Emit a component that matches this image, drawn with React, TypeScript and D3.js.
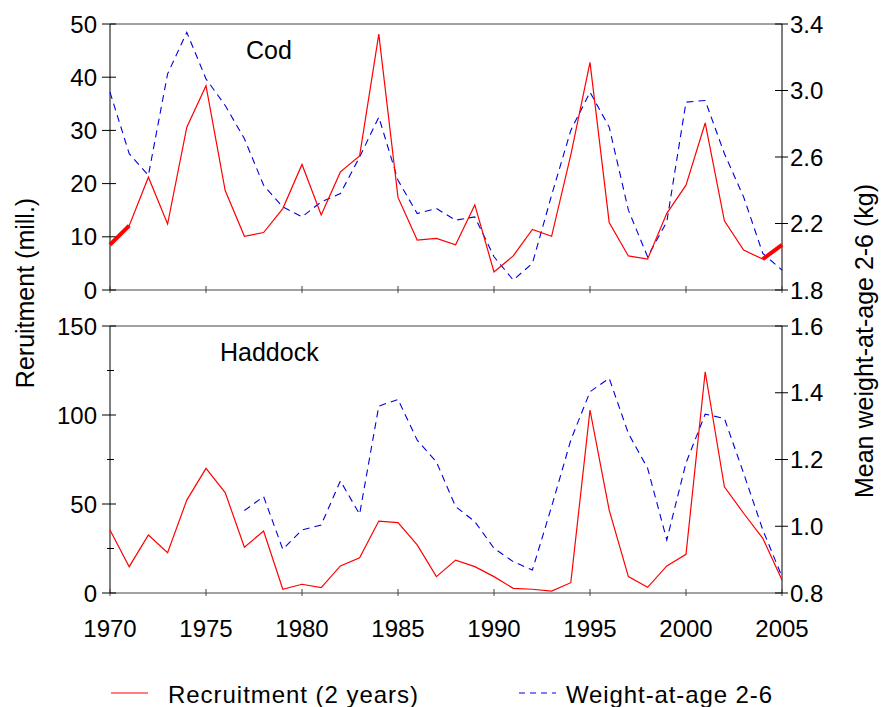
import React from 'react';
import * as d3 from 'd3';

// years 1970..2005
const years = d3.range(1970, 2006);

// cod
const codRecruit = [8.5, 12.1, 21.2, 12.4, 30.6, 38.4, 18.7, 10.1, 10.8, 15.3, 23.6, 14.1, 22.2, 25.2, 48.1,
  17.4, 9.4, 9.7, 8.5, 16.0, 3.4, 6.4, 11.4, 10.1, 25.4, 42.8, 12.7, 6.4, 5.8, 14.4,
  19.7, 31.4, 13.0, 7.5, 5.8, 8.5];
const codWeight = [2.99, 2.62, 2.49, 3.10, 3.35, 3.07, 2.91, 2.71, 2.43, 2.30, 2.24, 2.33, 2.38, 2.60, 2.84,
  2.46, 2.26, 2.29, 2.22, 2.24, 2.00, 1.86, 1.96, 2.37, 2.76, 2.99, 2.78, 2.28, 2.00, 2.21,
  2.93, 2.94, 2.62, 2.36, 2.02, 1.92];

// haddock
const hadRecruit = [35.4, 14.8, 32.6, 22.7, 52.2, 70.0, 56.4, 25.7, 34.8, 2.1, 4.9, 3.0, 15.2, 19.8, 40.4,
  39.5, 27.0, 9.2, 18.5, 14.8, 9.2, 2.6, 2.1, 1.1, 5.8, 102.8, 46.6, 9.2, 3.2, 15.2,
  21.7, 124.3, 59.7, 44.8, 30.7, 7.3];
// weight series starts 1977
const hadWeight = [null, null, null, null, null, null, null, 1.047, 1.089, 0.931, 0.989, 1.004, 1.136, 1.036, 1.360,
  1.380, 1.258, 1.193, 1.059, 1.014, 0.934, 0.894, 0.869, 1.059, 1.258, 1.403, 1.443, 1.278, 1.174, 0.959,
  1.19, 1.336, 1.323, 1.159, 0.989, 0.849];

const xTicks = [1970, 1975, 1980, 1985, 1990, 1995, 2000, 2005];
const codLeftTicks = [0, 10, 20, 30, 40, 50];
const codRightTicks = [1.8, 2.2, 2.6, 3.0, 3.4];
const hadLeftTicks = [0, 50, 100, 150];
const hadLeftMinor = [25, 75, 125];
const hadRightTicks = [0.8, 1.0, 1.2, 1.4, 1.6];

const W = 881;
const H = 707;
const left = 110;
const right = 782;
const font = "'Liberation Sans', Arial, sans-serif";
const tickSize = 24;

const Panel = ({ top, bottom, label, labelX, recruit, weight, yMax, wDomain, lTicks, lMinor, rTicks, thick }) => {
  const x = d3.scaleLinear().domain([1970, 2005]).range([left, right]);
  const yL = d3.scaleLinear().domain([0, yMax]).range([bottom, top]);
  const yR = d3.scaleLinear().domain(wDomain).range([bottom, top]);
  const fmt = d3.format('.1f');

  const redLine = d3.line().x((d, i) => x(years[i])).y(d => yL(d));
  const blueLine = d3
    .line()
    .defined(d => d != null)
    .x((d, i) => x(years[i]))
    .y(d => yR(d));

  const n = years.length;
  return (
    <g>
      {/* frame */}
      <line x1={left} x2={right} y1={top} y2={top} stroke="#444" strokeWidth={1} />
      <line x1={left} x2={right} y1={bottom} y2={bottom} stroke="#444" strokeWidth={1} />
      <line x1={left} x2={left} y1={top} y2={bottom} stroke="#000" strokeWidth={1} />
      <line x1={right} x2={right} y1={top} y2={bottom} stroke="#000" strokeWidth={1} />
      {xTicks.map(t => (
        <line key={t} x1={x(t)} x2={x(t)} y1={bottom - 4} y2={bottom + 3} stroke="#444" />
      ))}
      {lTicks.map(t => (
        <g key={t}>
          <line x1={left - 8} x2={left + 6} y1={yL(t)} y2={yL(t)} stroke="#000" />
          <text x={left - 13} y={yL(t)} dy="0.36em" textAnchor="end" fontSize={tickSize} fontFamily={font}>{t}</text>
        </g>
      ))}
      {lMinor.map(t => (
        <line key={t} x1={left - 3} x2={left + 4} y1={yL(t)} y2={yL(t)} stroke="#000" />
      ))}
      {rTicks.map(t => (
        <g key={t}>
          <line x1={right - 7} x2={right + 6} y1={yR(t)} y2={yR(t)} stroke="#000" />
          <text x={right + 8} y={yR(t)} dy="0.36em" textAnchor="start" fontSize={tickSize} fontFamily={font}>{fmt(t)}</text>
        </g>
      ))}
      <path d={blueLine(weight)} fill="none" stroke="#0000dd" strokeWidth={1.1} strokeDasharray="7,5" />
      <path d={redLine(recruit)} fill="none" stroke="#ff0000" strokeWidth={1.2} />
      {thick && (
        <>
          <path d={redLine(recruit.slice(0, 2))} fill="none" stroke="#ff0000" strokeWidth={4} />
          <path
            d={d3.line().x((d, i) => x(years[n - 2 + i])).y(d => yL(d))(recruit.slice(n - 2))}
            fill="none"
            stroke="#ff0000"
            strokeWidth={4}
          />
        </>
      )}
      <text x={labelX} y={top + 35} fontSize={25} fontFamily={font}>{label}</text>
    </g>
  );
};

export default function App() {
  const x = d3.scaleLinear().domain([1970, 2005]).range([left, right]);
  return (
    <svg width={W} height={H} style={{ display: 'block', position: 'absolute', left: 0, top: 0, background: '#fff' }}>
      <Panel
        top={24}
        bottom={290}
        label="Cod"
        labelX={246}
        recruit={codRecruit}
        weight={codWeight}
        yMax={50}
        wDomain={[1.8, 3.4]}
        lTicks={codLeftTicks}
        lMinor={[]}
        rTicks={codRightTicks}
        thick={true}
      />
      <Panel
        top={326}
        bottom={593}
        label="Haddock"
        labelX={220}
        recruit={hadRecruit}
        weight={hadWeight}
        yMax={150}
        wDomain={[0.8, 1.6]}
        lTicks={hadLeftTicks}
        lMinor={hadLeftMinor}
        rTicks={hadRightTicks}
        thick={false}
      />
      {xTicks.map(t => (
        <text key={t} x={x(t)} y={628} dy="0.36em" textAnchor="middle" fontSize={tickSize} fontFamily={font}>{t}</text>
      ))}
      <text transform="translate(25,293) rotate(-90)" textAnchor="middle" dy="0.36em" fontSize={25} fontFamily={font}>
        Reruitment (mill.)
      </text>
      <text transform="translate(864,341) rotate(-90)" textAnchor="middle" dy="0.36em" fontSize={25} fontFamily={font}>
        Mean weight-at-age 2-6 (kg)
      </text>
      {/* legend */}
      <line x1={111} x2={148} y1={693} y2={693} stroke="#ff0000" strokeWidth={1.2} />
      <text x={168} y={703} fontSize={24} fontFamily={font} textLength={250} lengthAdjust="spacing">
        Recruitment (2 years)
      </text>
      <line x1={519} x2={556} y1={693} y2={693} stroke="#0000dd" strokeWidth={1.1} strokeDasharray="6,5" />
      <text x={566} y={703} fontSize={24} fontFamily={font} textLength={206} lengthAdjust="spacing">
        Weight-at-age 2-6
      </text>
    </svg>
  );
}
